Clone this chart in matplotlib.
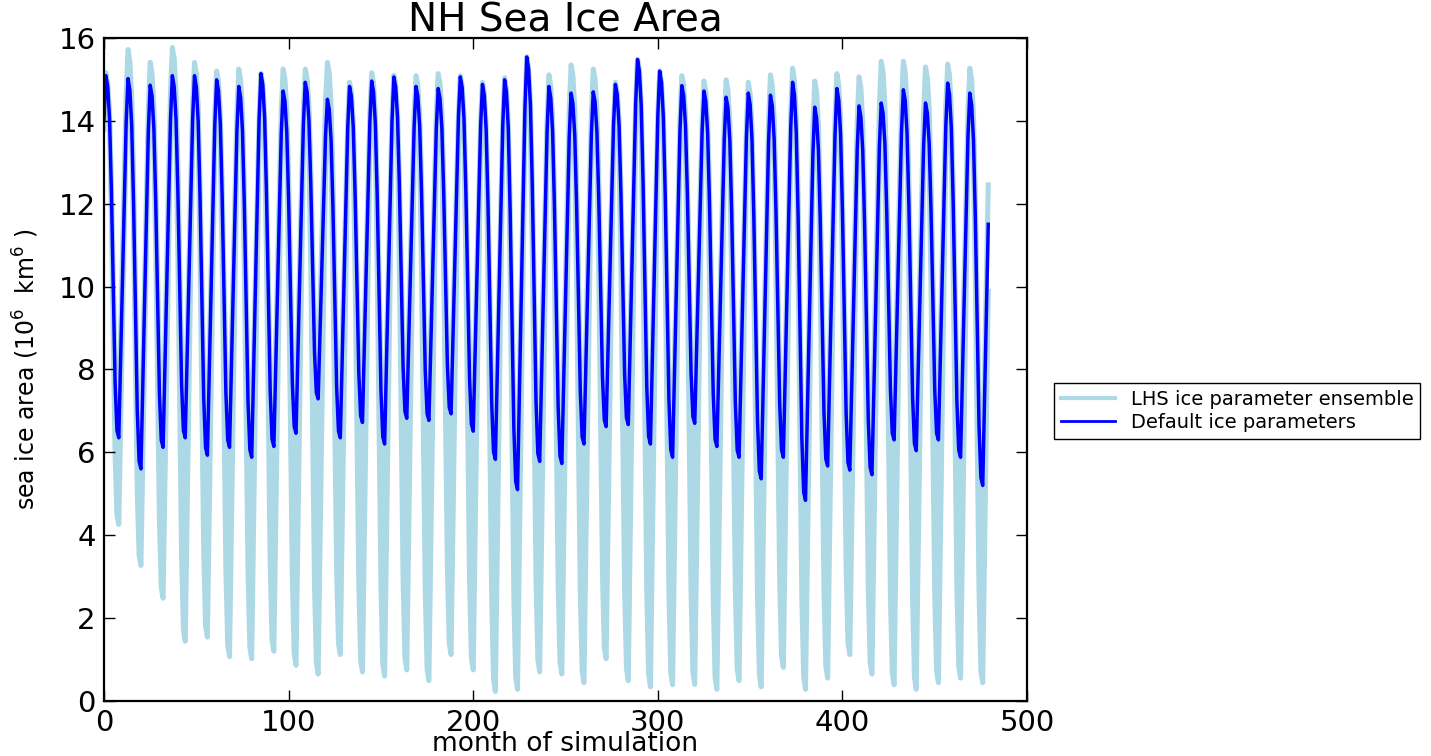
import numpy as np
import matplotlib
matplotlib.use("Agg")
import matplotlib.pyplot as plt

# ---------------- data ----------------
n_years = 40
months = np.arange(n_years * 12)

# relative position in the annual cycle (0 = summer minimum, 1 = winter maximum), Jan..Dec
seasonal_shape = [0.88, 1.0, 0.97, 0.88, 0.68, 0.42, 0.15, 0.02, 0.0, 0.22, 0.45, 0.66]

# default run: annual maxima and minima (10^6 km^2)
default_peaks = [15.09, 15.02, 14.86, 15.09, 15.09, 14.99, 14.83, 15.14, 14.72, 14.93,
                 14.52, 14.83, 14.96, 15.06, 14.83, 14.78, 15.06, 14.88, 14.99, 15.54,
                 14.83, 14.67, 14.70, 14.88, 15.48, 15.20, 14.85, 14.72, 14.57, 14.67,
                 14.62, 14.93, 14.33, 14.78, 14.36, 14.43, 14.75, 14.43, 14.91, 14.67]
default_troughs = [6.35, 5.60, 6.12, 6.35, 5.93, 6.12, 5.88, 6.14, 6.46, 7.29,
                   6.35, 6.72, 6.20, 6.82, 6.77, 6.93, 6.51, 5.83, 5.10, 5.78,
                   5.73, 6.20, 6.62, 6.67, 6.20, 5.88, 6.70, 6.14, 5.88, 5.36,
                   5.88, 4.84, 5.67, 5.57, 5.46, 6.30, 6.04, 6.30, 5.88, 5.20]
default_next_peak = 14.75

# LHS ensemble envelope: annual maxima and minima across members
ens_peaks = [15.16, 15.72, 15.41, 15.77, 15.41, 15.20, 15.25, 15.14, 15.25, 15.25,
             15.41, 14.93, 15.16, 15.10, 15.09, 15.14, 15.09, 14.93, 15.04, 15.54,
             15.11, 15.35, 15.25, 14.93, 15.48, 15.20, 15.09, 14.96, 14.99, 14.93,
             15.11, 15.27, 14.96, 15.14, 15.06, 15.44, 15.44, 15.30, 15.37, 15.27]
ens_troughs = [4.26, 3.27, 2.48, 1.44, 1.54, 1.07, 1.02, 1.20, 0.86, 0.65,
               1.12, 0.70, 0.60, 0.75, 0.49, 1.12, 0.75, 0.23, 0.28, 0.70,
               0.65, 0.44, 1.02, 0.49, 0.34, 0.39, 0.40, 0.28, 0.49, 0.34,
               0.81, 0.28, 0.55, 1.12, 0.65, 0.39, 0.28, 0.44, 0.55, 0.44]
ens_upper_trough_offset = 0.6
ens_next_peak = 15.88

labels = ["LHS ice parameter ensemble", "Default ice parameters"]


def monthly(peaks, troughs, next_peak):
    vals = []
    for y in range(n_years):
        for m in range(12):
            s = seasonal_shape[m]
            if m < 2:
                tr = troughs[y - 1] if y > 0 else troughs[0]
                pk = peaks[y]
            elif m < 8:
                tr = troughs[y]
                pk = peaks[y]
            else:
                tr = troughs[y]
                pk = peaks[y + 1] if y < n_years - 1 else next_peak
            vals.append(tr + (pk - tr) * s)
    return np.array(vals)


default = monthly(default_peaks, default_troughs, default_next_peak)
ens_hi = monthly(ens_peaks, [t + ens_upper_trough_offset for t in default_troughs], ens_next_peak)
ens_lo = monthly(default_peaks, ens_troughs, default_next_peak)

band_lo = np.minimum.reduce([ens_lo, ens_hi, default])
band_hi = np.maximum.reduce([ens_lo, ens_hi, default])

# ---------------- figure ----------------
fig = plt.figure(figsize=(14.31, 7.56), dpi=100)
ax = fig.add_axes([0.0727, 0.0728, 0.645, 0.877])

ens_color = "lightblue"
ax.fill_between(months, band_lo, band_hi, color=ens_color, lw=0, zorder=1)
ax.plot(months, band_hi, color=ens_color, lw=3.6, zorder=1)
ax.plot(months, band_lo, color=ens_color, lw=3.6, zorder=1, label=labels[0])
ax.plot(months, default, color="blue", lw=2.5, zorder=2, label=labels[1])

ax.set_xlim(0, 500)
ax.set_ylim(0, 16)
ax.set_xticks(np.arange(0, 501, 100))
ax.set_yticks(np.arange(0, 17, 2))
ax.tick_params(direction="in", top=True, right=True, length=8, width=1,
               labelsize=21, pad=6)
for sp in ax.spines.values():
    sp.set_linewidth(1.6)

ax.set_title("NH Sea Ice Area", fontsize=28, pad=5)
ax.set_xlabel("month of simulation", fontsize=19)
ax.xaxis.label.set_va("top")
ax.xaxis.set_label_coords(0.5, -0.046)
ax.set_ylabel(r"sea ice area (10$^6$  km$^6$ )", fontsize=17)
ax.yaxis.set_label_coords(-0.068, 0.5)

leg = ax.legend(loc="center left", bbox_to_anchor=(1.029, 0.437), fontsize=14,
                frameon=True, fancybox=False, edgecolor="black", framealpha=1,
                handlelength=2.8, handletextpad=0.8, borderpad=0.35,
                labelspacing=0.2, borderaxespad=0)
leg.get_frame().set_linewidth(1.0)
leg.get_lines()[0].set_linewidth(3)
leg.get_lines()[1].set_linewidth(2)

fig.savefig("out.png", dpi=100)
